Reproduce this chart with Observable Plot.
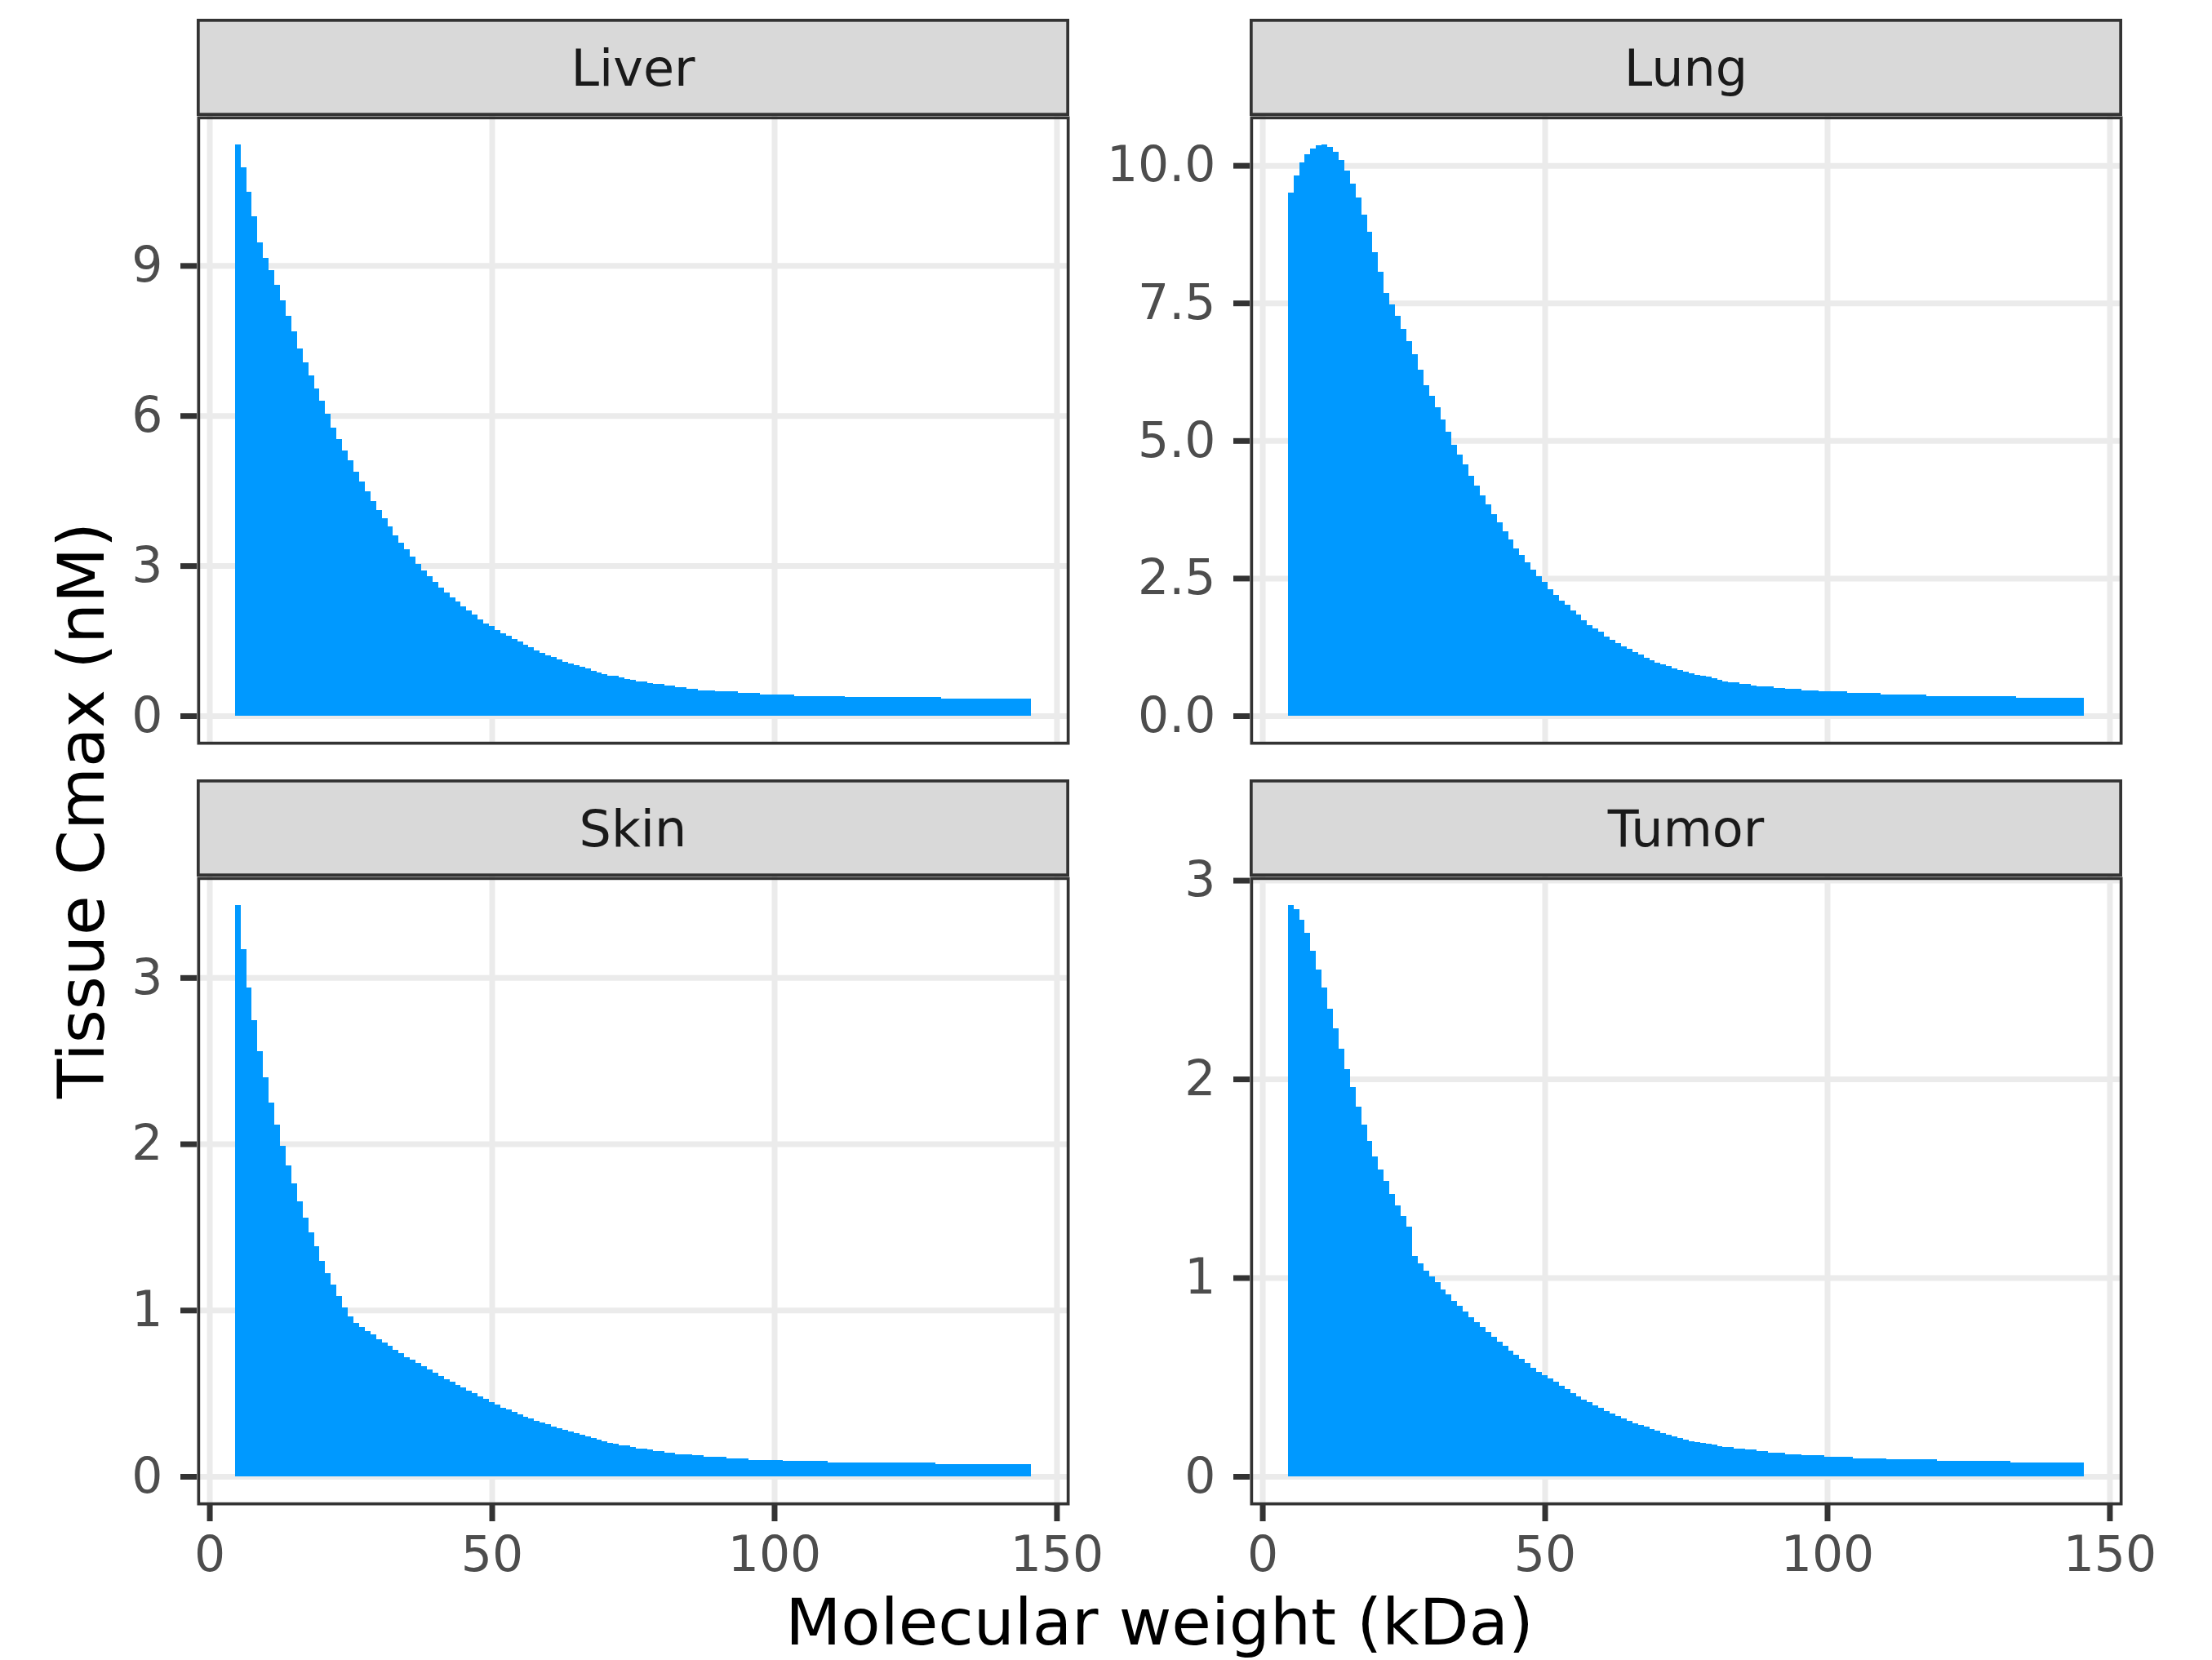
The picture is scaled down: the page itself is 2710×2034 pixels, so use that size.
<!DOCTYPE html>
<html>
<head>
<meta charset="utf-8">
<script src="https://cdn.jsdelivr.net/npm/d3@7"></script>
<script src="https://cdn.jsdelivr.net/npm/@observablehq/plot@0.6"></script>
<style>
  body { margin: 0; background: #fff; }
  #chart { position: relative; width: 2710px; height: 2034px; background: #fff; overflow: hidden; font-family: "DejaVu Sans", sans-serif; }
  .pl { position: absolute; }
</style>
</head>
<body>
<div id="chart"></div>
<script>
// ---------------- data ----------------
const tissues = ["Liver", "Lung", "Skin", "Tumor"];
const molecularWeight = d3.range(5, 146); // kDa, 5..145
const xTicks = [0, 50, 100, 150];
const xTitle = "Molecular weight (kDa)";
const yTitle = "Tissue Cmax (nM)";

const liverCmax = [
  11.42, 10.97, 10.48, 9.98, 9.47, 9.16, 8.90, 8.61, 8.30, 7.99,
  7.68, 7.34, 7.06, 6.81, 6.55, 6.29, 6.04, 5.76, 5.53, 5.30,
  5.10, 4.88, 4.68, 4.48, 4.29, 4.11, 3.94, 3.78, 3.61, 3.46,
  3.33, 3.18, 3.03, 2.90, 2.79, 2.67, 2.56, 2.47, 2.36, 2.28,
  2.19, 2.11, 2.03, 1.93, 1.84, 1.79, 1.71, 1.65, 1.60, 1.53,
  1.48, 1.42, 1.37, 1.30, 1.25, 1.20, 1.17, 1.13, 1.08, 1.04,
  1.01, 0.98, 0.94, 0.89, 0.86, 0.83, 0.80, 0.80, 0.77, 0.74,
  0.715, 0.69, 0.69, 0.655, 0.63, 0.63, 0.60, 0.60, 0.567, 0.567,
  0.54, 0.54, 0.513, 0.513, 0.513,
  0.486, 0.486, 0.486, 0.486,
  0.458, 0.458, 0.458, 0.458,
  0.426, 0.426, 0.426, 0.426, 0.426, 0.426,
  0.398, 0.398, 0.398, 0.398, 0.398, 0.398, 0.398, 0.398, 0.398,
  0.371, 0.371, 0.371, 0.371, 0.371, 0.371, 0.371, 0.371, 0.371, 0.371, 0.371, 0.371, 0.371, 0.371, 0.371, 0.371, 0.371,
  0.344, 0.344, 0.344, 0.344, 0.344, 0.344, 0.344, 0.344, 0.344, 0.344, 0.344, 0.344, 0.344, 0.344, 0.344, 0.344
];

const lungCmax = [
  9.51, 9.82, 10.06, 10.20, 10.31, 10.36, 10.38, 10.34, 10.24, 10.10,
  9.90, 9.67, 9.41, 9.10, 8.79, 8.42, 8.07, 7.68, 7.47, 7.27,
  7.03, 6.80, 6.57, 6.29, 6.01, 5.81, 5.60, 5.39, 5.16, 4.93,
  4.74, 4.57, 4.36, 4.18, 4.01, 3.84, 3.66, 3.51, 3.35, 3.20,
  3.04, 2.92, 2.79, 2.66, 2.53, 2.43, 2.30, 2.20, 2.09, 2.01,
  1.92, 1.84, 1.73, 1.65, 1.58, 1.52, 1.44, 1.38, 1.32, 1.26,
  1.21, 1.16, 1.11, 1.05, 1.01, 0.97, 0.94, 0.90, 0.86, 0.83,
  0.80, 0.77, 0.745, 0.725, 0.705, 0.688, 0.649, 0.619, 0.61, 0.61,
  0.585, 0.585, 0.556,
  0.531, 0.531, 0.531,
  0.511, 0.511,
  0.482, 0.482, 0.482,
  0.457, 0.457, 0.457,
  0.438, 0.438, 0.438, 0.438, 0.438,
  0.408, 0.408, 0.408, 0.408, 0.408, 0.408,
  0.379, 0.379, 0.379, 0.379, 0.379, 0.379, 0.379, 0.379,
  0.354, 0.354, 0.354, 0.354, 0.354, 0.354, 0.354, 0.354, 0.354, 0.354, 0.354, 0.354, 0.354, 0.354, 0.354, 0.354,
  0.329, 0.329, 0.329, 0.329, 0.329, 0.329, 0.329, 0.329, 0.329, 0.329, 0.329, 0.329
];

const skinCmax = [
  3.436, 3.171, 2.940, 2.743, 2.555, 2.402, 2.248, 2.117, 1.990, 1.871,
  1.760, 1.655, 1.555, 1.469, 1.383, 1.298, 1.221, 1.152, 1.083, 1.017,
  0.964, 0.924, 0.900, 0.876, 0.852, 0.826, 0.805, 0.783, 0.762, 0.740,
  0.719, 0.702, 0.681, 0.662, 0.643, 0.621, 0.605, 0.586, 0.571, 0.552,
  0.536, 0.517, 0.500, 0.481, 0.464, 0.448, 0.433, 0.414, 0.402, 0.388,
  0.374, 0.360, 0.348, 0.336, 0.324, 0.312, 0.300, 0.288, 0.279, 0.269,
  0.260, 0.250, 0.240, 0.229, 0.221, 0.211, 0.203, 0.194, 0.185, 0.185,
  0.176, 0.168, 0.168, 0.160, 0.152, 0.152, 0.142, 0.142,
  0.134, 0.134, 0.134,
  0.126, 0.126,
  0.118, 0.118, 0.118, 0.118,
  0.108, 0.108, 0.108, 0.108,
  0.100, 0.100, 0.100, 0.100, 0.100, 0.100,
  0.092, 0.092, 0.092, 0.092, 0.092, 0.092, 0.092, 0.092,
  0.083, 0.083, 0.083, 0.083, 0.083, 0.083, 0.083, 0.083, 0.083, 0.083, 0.083, 0.083, 0.083, 0.083, 0.083, 0.083, 0.083, 0.083, 0.083,
  0.075, 0.075, 0.075, 0.075, 0.075, 0.075, 0.075, 0.075, 0.075, 0.075, 0.075, 0.075, 0.075, 0.075, 0.075, 0.075, 0.075
];

const tumorCmax = [
  2.875, 2.855, 2.803, 2.735, 2.647, 2.552, 2.460, 2.353, 2.253, 2.151,
  2.050, 1.960, 1.861, 1.771, 1.687, 1.610, 1.544, 1.486, 1.422, 1.365,
  1.309, 1.257, 1.110, 1.072, 1.036, 1.006, 0.976, 0.942, 0.914, 0.884,
  0.857, 0.829, 0.799, 0.775, 0.751, 0.727, 0.703, 0.679, 0.657, 0.633,
  0.612, 0.592, 0.572, 0.548, 0.526, 0.508, 0.492, 0.476, 0.456, 0.438,
  0.420, 0.404, 0.388, 0.373, 0.359, 0.345, 0.329, 0.317, 0.305, 0.293,
  0.281, 0.269, 0.259, 0.249, 0.237, 0.229, 0.219, 0.209, 0.201, 0.193,
  0.183, 0.177, 0.173, 0.169, 0.165, 0.161, 0.153, 0.148, 0.148, 0.141,
  0.141, 0.134, 0.134, 0.127, 0.127,
  0.119, 0.119, 0.119,
  0.112, 0.112, 0.112,
  0.105, 0.105, 0.105, 0.105,
  0.098, 0.098, 0.098, 0.098, 0.098,
  0.092, 0.092, 0.092, 0.092, 0.092, 0.092,
  0.085, 0.085, 0.085, 0.085, 0.085, 0.085, 0.085, 0.085, 0.085,
  0.077, 0.077, 0.077, 0.077, 0.077, 0.077, 0.077, 0.077, 0.077, 0.077, 0.077, 0.077, 0.077,
  0.070, 0.070, 0.070, 0.070, 0.070, 0.070, 0.070, 0.070, 0.070, 0.070, 0.070, 0.070, 0.070
];

const seriesByTissue = { Liver: liverCmax, Lung: lungCmax, Skin: skinCmax, Tumor: tumorCmax };
const yTicksByTissue = {
  Liver: [0, 3, 6, 9],
  Lung: [0, 2.5, 5, 7.5, 10],
  Skin: [0, 1, 2, 3],
  Tumor: [0, 1, 2, 3]
};
const yFormatByTissue = { Liver: "d", Lung: ".1f", Skin: "d", Tumor: "d" };

// ---------------- layout ----------------
const W = 2710, H = 2034;
const panelW = 1069, panelH = 770;
const colLeft = [241, 1531];
const rowTop = [142, 1074];
const stripH = 119;
const mL = 190, mR = 20, mT = 10;
const xDomain = [-2.25, 152.25];
const barColor = "#0099ff";
const dark = "#333333";

const chart = document.getElementById("chart");

tissues.forEach((tissue, k) => {
  const col = k % 2, row = Math.floor(k / 2);
  const bottom = row === 1;
  const mB = bottom ? 130 : 10;
  const values = seriesByTissue[tissue];
  if (values.length !== molecularWeight.length) console.error(tissue, values.length);
  const data = molecularWeight.map((mw, i) => ({ mw, v: values[i] }));
  const vmax = d3.max(values);
  const marks = [
    Plot.gridX(xTicks, { stroke: "#ebebeb", strokeOpacity: 1, strokeWidth: 7 }),
    Plot.gridY(yTicksByTissue[tissue], { stroke: "#ebebeb", strokeOpacity: 1, strokeWidth: 7 }),
    Plot.rect(data, {
      x1: d => d.mw - 0.5, x2: d => d.mw + 0.5, y1: 0, y2: "v",
      fill: barColor, shapeRendering: "crispEdges"
    }),
    Plot.axisY(yTicksByTissue[tissue], {
      tickSize: 20, tickPadding: 22, stroke: dark, strokeWidth: 7,
      color: "#4d4d4d", fontSize: 60, label: null,
      tickFormat: d3.format(yFormatByTissue[tissue])
    }),
    Plot.frame({ stroke: dark, strokeWidth: 3.7, inset: 1.85 })
  ];
  if (bottom) {
    marks.push(Plot.axisX(xTicks, {
      tickSize: 20, tickPadding: 18, stroke: dark, strokeWidth: 7,
      color: "#4d4d4d", fontSize: 60, label: null
    }));
  }
  const svg = Plot.plot({
    width: mL + panelW + mR,
    height: mT + panelH + mB,
    marginLeft: mL, marginRight: mR, marginTop: mT, marginBottom: mB,
    style: { fontFamily: "DejaVu Sans", fontSize: "60px", background: "transparent", overflow: "visible", maxWidth: "none" },
    x: { domain: xDomain, axis: bottom ? undefined : null },
    y: { domain: [-0.05 * vmax, 1.05 * vmax] },
    marks
  });
  svg.classList.add("pl");
  svg.style.left = (colLeft[col] - mL) + "px";
  svg.style.top = (rowTop[row] - mT) + "px";
  chart.appendChild(svg);
});

// ---------------- strips and titles (overlay) ----------------
const over = d3.select(chart).append("svg")
  .attr("width", W).attr("height", H)
  .style("position", "absolute").style("left", 0).style("top", 0)
  .style("pointer-events", "none")
  .attr("font-family", "DejaVu Sans");

tissues.forEach((tissue, k) => {
  const col = k % 2, row = Math.floor(k / 2);
  const x0 = colLeft[col], y0 = rowTop[row] - stripH;
  over.append("rect").attr("x", x0).attr("y", y0).attr("width", panelW).attr("height", stripH)
    .attr("fill", "#d9d9d9");
  over.append("rect").attr("x", x0 + 1.85).attr("y", y0 + 1.85)
    .attr("width", panelW - 3.7).attr("height", stripH - 3.7)
    .attr("fill", "none").attr("stroke", dark).attr("stroke-width", 3.7);
  over.append("text").attr("x", x0 + panelW / 2).attr("y", y0 + stripH / 2 + 0.36 * 62)
    .attr("text-anchor", "middle").attr("font-size", 62).attr("fill", "#1a1a1a")
    .text(tissue);
});

over.append("text")
  .attr("x", (colLeft[0] + colLeft[1] + panelW) / 2).attr("y", 2015)
  .attr("text-anchor", "middle").attr("font-size", 79).attr("fill", "#000")
  .text(xTitle);

over.append("text")
  .attr("transform", `translate(127, ${(rowTop[0] + rowTop[1] + panelH) / 2}) rotate(-90)`)
  .attr("text-anchor", "middle").attr("font-size", 79).attr("fill", "#000")
  .text(yTitle);
</script>
</body>
</html>
